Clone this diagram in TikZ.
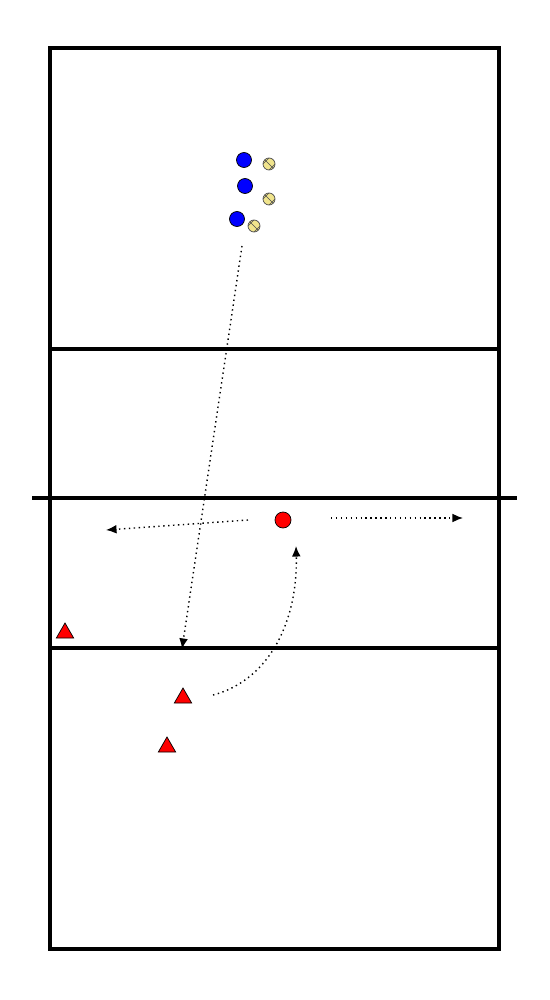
\documentclass[tikz,border=0pt]{standalone}
\usetikzlibrary{arrows.meta, shapes.geometric}
\definecolor{ballyellow}{RGB}{240,228,140}
\begin{document}
\begin{tikzpicture}[x=0.02cm, y=-0.02cm,
	court/.style={line width=2.2pt},
	player/.style={circle, draw, fill=blue, inner sep=0pt, minimum size=0.3cm},
	trainer/.style={circle, draw, fill=red, inner sep=0pt, minimum size=0.32cm},
	cone/.style={regular polygon, regular polygon sides=3, draw, fill=red, inner sep=0pt, minimum size=0.4cm},
	ball/.style={circle, draw=black!70, fill=ballyellow, inner sep=0pt, minimum size=0.24cm,
		path picture={\draw[black!70, line width=0.3pt]
			(path picture bounding box.north west) .. controls (path picture bounding box.center) .. (path picture bounding box.south east)
			(path picture bounding box.west) -- (path picture bounding box.north)
			(path picture bounding box.south) -- (path picture bounding box.east);}},
	move/.style={dotted, thick, -{Latex[length=6pt, width=5pt]}}]
	\useasboundingbox (0,0) rectangle (550,1000);
	% court
	\draw[court] (50,48) rectangle (499,949);
	\draw[court] (50,349) -- (499,349);
	\draw[court] (50,648) -- (499,648);
	\draw[court] (32,498) -- (517,498);
	% players with balls
	\node[player] (p1) at (244,160) {};
	\node[player] (p2) at (245,186) {};
	\node[player] (p3) at (237,219) {};
	\node[ball] (b1) at (269,164) {};
	\node[ball] (b2) at (269,199) {};
	\node[ball] (b3) at (254,226) {};
	% trainer and cones
	\node[trainer] (t) at (283,520) {};
	\node[cone] (c1) at (65,633) {};
	\node[cone] (c2) at (183,698) {};
	\node[cone] (c3) at (167,747) {};
	\coordinate (s1) at (242,246);
	\coordinate (e1) at (182,649);
	\coordinate (s2) at (248,520);
	\coordinate (e2) at (106,530);
	\coordinate (s3) at (331,518);
	\coordinate (e3) at (463,518);
	\coordinate (s4) at (213,695);
	\coordinate (e4) at (296,546);
	\draw[move] (s1) -- (e1);
	\draw[move] (s2) -- (e2);
	\draw[move] (s3) -- (e3);
	\draw[move] (s4) .. controls (270,680) and (298,620) .. (e4);
\end{tikzpicture}
\end{document}
